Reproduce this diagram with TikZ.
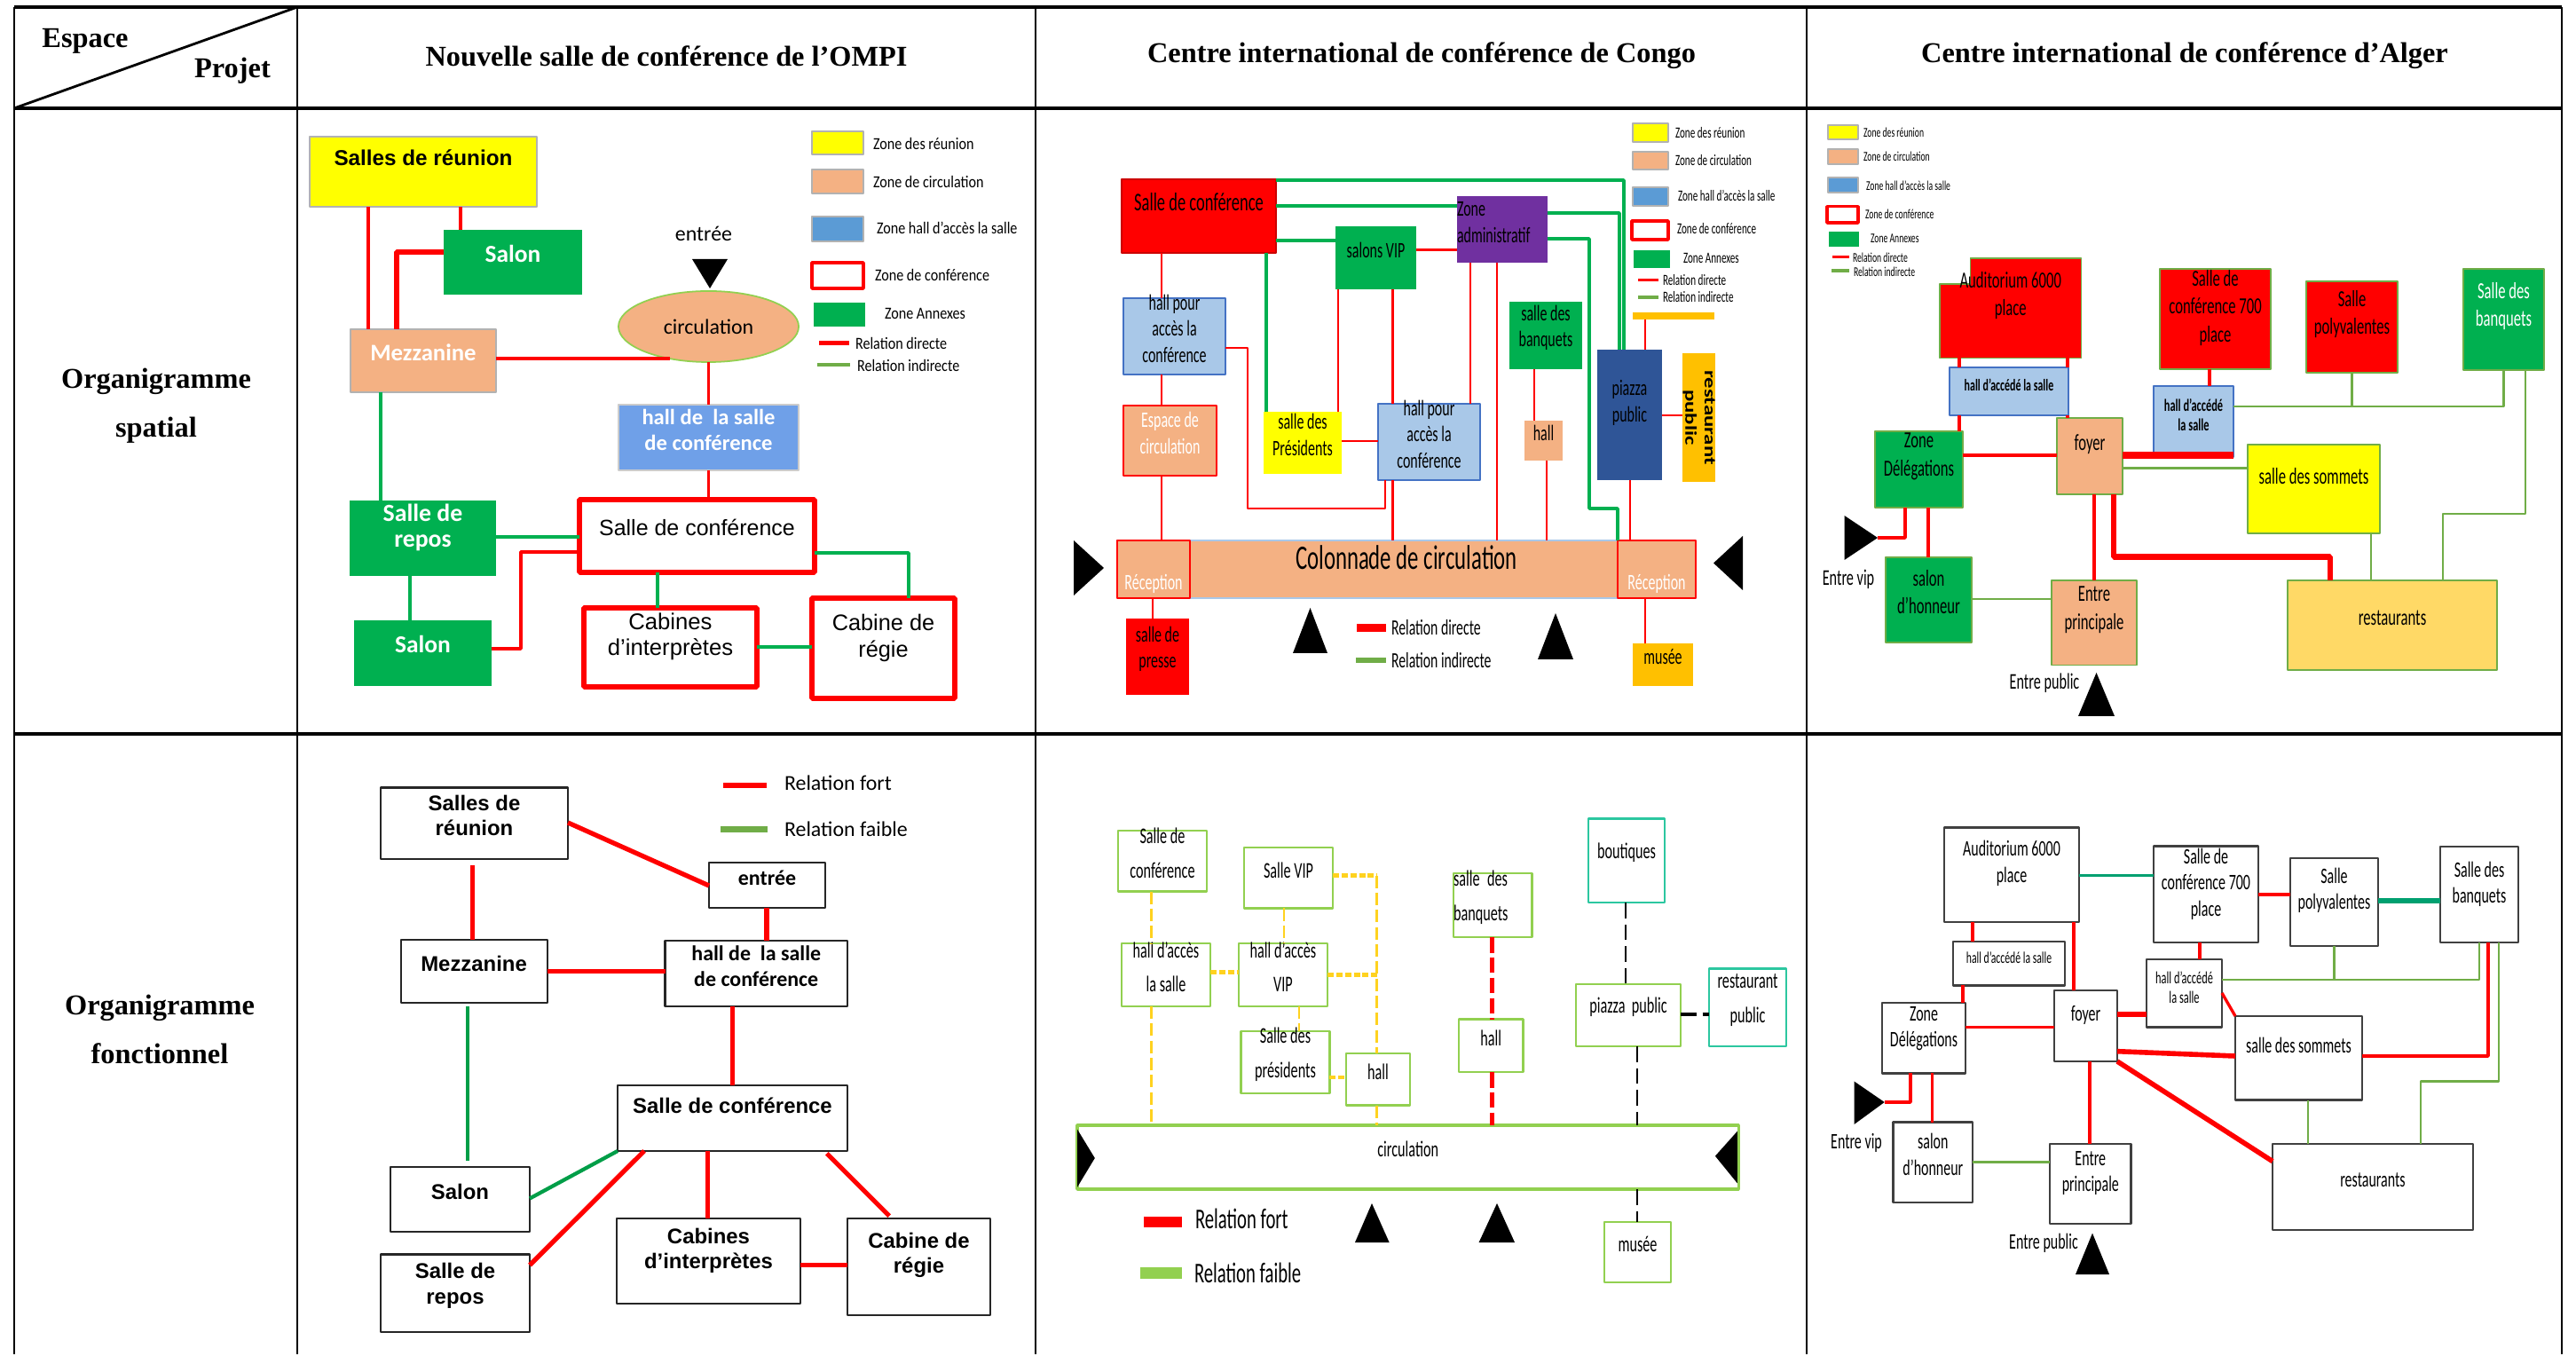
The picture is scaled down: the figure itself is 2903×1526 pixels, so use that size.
\documentclass[tikz,border=0pt]{standalone}
\usepackage{fontspec}
\setmainfont{Liberation Serif}
\newfontfamily\arial{Liberation Sans}
\newfontfamily\calibri{Carlito}
\newfontfamily\semi[FakeStretch=0.85]{Carlito}
\newfontfamily\narrow[FakeStretch=0.64]{Carlito}
\newfontfamily\wide[FakeStretch=1.35]{Carlito}
\usetikzlibrary{fit,shapes.geometric}

\newcommand\fsz[2]{\fontsize{#1}{#2}\selectfont}

\definecolor{reunion}{HTML}{FFFF00}
\definecolor{circ}{HTML}{F4B183}
\definecolor{hallzone}{HTML}{6FA0E8}
\definecolor{hallkey}{HTML}{5B9BD5}
\definecolor{hallpale}{HTML}{A9C8E8}
\definecolor{hallline}{HTML}{4472C4}
\definecolor{annexe}{HTML}{00B050}
\definecolor{admin}{HTML}{7030A0}
\definecolor{piazza}{HTML}{2F5597}
\definecolor{dore}{HTML}{FFC000}
\definecolor{resto}{HTML}{FFD966}
\definecolor{olive}{HTML}{70AD47}
\definecolor{pale}{HTML}{92D050}
\definecolor{jaune}{HTML}{FFD21F}
\definecolor{turq}{HTML}{2CC7A0}
\definecolor{sarcelle}{HTML}{00A070}

\tikzset{
  every node/.style={inner sep=0pt, outer sep=0pt, align=center},
  trait/.style={line width=1.3pt},
  vtrait/.style={line width=0.8pt},
  titre/.style={font=\bfseries\fsz{9.2}{15.6}},
  conf/.style={fill=white, draw=red, line width=1.7pt},
  direct/.style={draw=red, line width=1.1pt},
  indirect/.style={draw=annexe, line width=0.9pt},
  cleA/.style={anchor=west, font=\semi\fsz{5.4}{6}},
  fB/.style={font=\narrow\fsz{7.1}{8.5}},
  cleB/.style={anchor=west, font=\narrow\fsz{4.95}{5.5}},
  dirB/.style={draw=red, line width=0.7pt},
  indB/.style={draw=annexe, line width=0.9pt},
  fC/.style={font=\narrow\fsz{7.4}{9}},
  bordC/.style={draw=olive, line width=0.4pt},
  cleC/.style={anchor=west, font=\narrow\fsz{4.3}{5}},
  dirC/.style={draw=red, line width=1.1pt},
  indC/.style={draw=olive, line width=0.7pt},
  fD/.style={font=\arial\bfseries\fsz{6.8}{8.1}},
  boite/.style={fill=white, draw=black!85, line width=0.6pt},
  fort/.style={draw=red, line width=1.5pt},
  faib/.style={draw=annexe!90!black, line width=1.2pt},
  fE/.style={font=\narrow\fsz{7.2}{11}},
  cadre/.style={fill=white, draw=pale, line width=0.8pt},
  pointille/.style={draw=jaune, line width=0.7pt, dash pattern=on 4pt off 1.5pt},
  pointfort/.style={draw=jaune, line width=1.4pt, dash pattern=on 2pt off 0.8pt},
  rougep/.style={draw=red, line width=1.2pt, dash pattern=on 5pt off 1.5pt},
  noirp/.style={draw=black, line width=0.6pt, dash pattern=on 5pt off 2pt},
  fF/.style={font=\narrow\fsz{7.1}{8.4}},
  boiteF/.style={fill=white, draw=black!75, line width=0.7pt},
  dirF/.style={draw=red, line width=0.95pt},
  indF/.style={draw=olive, line width=0.65pt},
  tealF/.style={draw=sarcelle, line width=0.95pt},
}

\begin{document}
\begin{tikzpicture}[x=0.01cm,y=-0.01cm,line join=bevel]
%%
\fill[white] (0,0) rectangle (2903,1526);
\draw[trait] (16,8) -- (2887,8);
\draw[trait] (16,122) -- (2887,122);
\draw[trait] (16,827) -- (2887,827);
\foreach \x in {16,335,1167,2036,2887}
  \draw[vtrait] (\x,8) -- (\x,1526);
\draw[vtrait] (16,122) -- (335,8);
%
\node (h_espace) [titre] at (96,46) {Espace};
  \node (h_projet) [titre] at (262,80) {Projet};
  \node (h_ompi) [titre] at (751,63) {Nouvelle salle de conférence de l’OMPI};
  \node (h_congo) [titre] at (1602,63) {Centre international de conférence de Congo};
  \node (h_alger) [titre] at (2462,63) {Centre international de conférence d’Alger};
  \node (r_spatial) [titre] at (176,457) {Organigramme\\spatial};
  \node (r_fonct) [titre] at (180,1160) {Organigramme\\fonctionnel};
%%
% OMPI, spatial
\node (a_reunion) [fill=reunion, draw=black!30, fit={(349,154) (605,233)}, label={[anchor=north, yshift=-0.15cm, font=\arial\bfseries\fsz{6.9}{8}]90:Salles de réunion}] {};
  \node (a_salon) [fill=annexe, fit={(500,259) (656,332)}, font=\calibri\bfseries\fsz{7.8}{9}, text=white] {Salon};
  \node (a_mezz) [fill=circ, draw=black!30, fit={(395,371) (559,442)}, font=\calibri\bfseries\fsz{7.6}{9}, text=white] {Mezzanine};
  \node (a_entree) [font=\calibri\fsz{6.8}{8}] at (793,263) {entrée};
  \fill (780,292) -- (820,292) -- (800,325) -- cycle;
  \node (a_circ) [ellipse, fill=circ, draw=pale, line width=0.5pt, minimum width=2.03cm, minimum height=0.8cm, font=\calibri\fsz{6.8}{8}] at (798.5,368) {circulation};
  \node (a_hall) [fill=hallzone, draw=black!20, fit={(697,456) (900,530)}, font=\calibri\bfseries\fsz{7}{8.3}, text=white] {hall de\ \ la salle\\de conférence};
  \node (a_conf) [conf, fit={(653,563) (918,645)}, font=\arial\fsz{7.1}{8}] {Salle de conférence};
  \node (a_repos) [fill=annexe, fit={(394,564) (559,649)}, label={[anchor=north, yshift=-0.04cm, text=white, font=\calibri\bfseries\fsz{7.9}{8.3}]90:Salle de\\repos}] {};
  \node (a_salon2) [fill=annexe, fit={(399,699) (554,773)}, font=\calibri\bfseries\fsz{7.8}{9}, text=white] {Salon};
  \node (a_cab) [conf, fit={(658,685) (853,774)}, label={[anchor=north, yshift=-0.06cm, font=\arial\fsz{7.3}{8.3}]90:Cabines\\d’interprètes}] {};
  \node (a_regie) [conf, fit={(915,674) (1076,787)}, label={[anchor=north, yshift=-0.18cm, font=\arial\fsz{7.2}{8.7}]90:Cabine de\\régie}] {};
%
\node (a_k1) [fill=reunion, draw=black!30, fit={(915,148) (973,174)}] {};
  \node (a_k2) [fill=circ, draw=black!30, fit={(915,191) (973,218)}] {};
  \node (a_k3) [fill=hallkey, draw=black!30, fit={(915,244) (973,272)}] {};
  \node (a_k4) [fill=white, draw=red, line width=1.2pt, fit={(915,296) (973,325)}] {};
  \node (a_k5) [fill=annexe, fit={(917,341) (975,368)}] {};
  \draw[red, line width=1.3pt] (923,386.5) -- (957,386.5);
  \draw[olive, line width=1.3pt] (921,411) -- (958,411);
  \node (a_l1) [cleA] at (984,162) {Zone des réunion};
  \node (a_l2) [cleA] at (984,205) {Zone de circulation};
  \node (a_l3) [cleA] at (988,257) {Zone hall d’accès la salle};
  \node (a_l4) [cleA] at (986,310) {Zone de conférence};
  \node (a_l5) [cleA] at (997,353) {Zone Annexes};
  \node (a_l6) [cleA] at (964,387) {Relation directe};
  \node (a_l7) [cleA] at (966,412) {Relation indirecte};
%
\draw[direct] (a_reunion.south -| 415,0) -- (a_mezz.north -| 415,0);
  \draw[direct] (a_reunion.south -| 519,0) -- (a_salon.north -| 519,0);
  \draw[direct, line width=1.7pt] (a_salon.west |- 0,284) -| (a_mezz.north -| 447,0);
  \draw[direct] (a_mezz.east |- a_circ.220) -- (a_circ.220);
  \draw[direct] (a_circ.south) -- (a_hall.north);
  \draw[direct] (a_hall.south) -- (a_hall.south |- a_conf.north);
  \draw[indirect] (a_mezz.south -| 429,0) -- (a_repos.north -| 429,0);
  \draw[indirect] (a_repos.east |- 0,605) -- (a_conf.west |- 0,605);
  \draw[direct] (a_salon2.east |- 0,731) -- ++(33,0) |- (a_conf.west |- 0,622);
  \draw[indirect] (a_repos.south -| 462,0) -- (a_salon2.north -| 462,0);
  \draw[indirect] (a_conf.south -| 741,0) -- (a_cab.north -| 741,0);
  \draw[indirect] (a_conf.east |- 0,623) -| (a_regie.north -| 1024,0);
  \draw[indirect] (a_cab.east |- 0,729) -- (a_regie.west |- 0,729);
%%
% Congo, spatial
\node (b_conf) [fill=red, draw=red!80!black, line width=0.3pt, fit={(1264,202) (1438,285)}, label={[anchor=north, yshift=-0.15cm, font=\narrow\fsz{8.2}{8.5}]90:Salle de conférence}] {};
  \node (b_admin) [fill=admin, fit={(1642,221) (1744,296)}, fB, align=left] {Zone\\administratif};
  \node (b_vip) [fill=annexe, fit={(1505,255) (1596,326)}, fB] {salons VIP};
  \node (b_hall1) [fill=hallpale, draw=hallline, line width=0.5pt, fit={(1266,336) (1381,422)}, fB] {hall pour\\accès la\\conférence};
  \node (b_banq) [fill=annexe, fit={(1701,340) (1783,416)}, fB] {salle des\\banquets};
  \node (b_piazza) [fill=piazza, fit={(1800,394) (1873,541)}, label={[anchor=north, yshift=-0.34cm, fB]90:piazza\\public}] {};
  \node (b_resto) [fill=dore, fit={(1896,398) (1933,543)}] {};
  \node (b_resto_t) [rotate=-90, font=\wide\bfseries\fsz{5.2}{6.2}] at (b_resto) {restaurant\\public};
  \node (b_espace) [fill=circ, draw=red, line width=0.6pt, fit={(1266,457) (1371,536)}, fB, text=white] {Espace de\\circulation};
  \node (b_pres) [fill=reunion, fit={(1424,464) (1512,534)}, fB] {salle des\\Présidents};
  \node (b_hall2) [fill=hallpale, draw=hallline, line width=0.5pt, fit={(1553,455) (1668,541)}, fB] {hall pour\\accès la\\conférence};
  \node (b_hall) [fill=circ, fit={(1718,474) (1761,519)}, fB] {hall};
  \node (b_colon) [fill=circ, draw=hallpale, line width=0.6pt, fit={(1259,609) (1911,674)}, font=\narrow\fsz{11}{12}] {Colonnade de circulation};
  \node (b_recep1) [fill=circ, draw=red, line width=0.6pt, fit={(1259,609) (1341,674)}, label={[anchor=south, yshift=0.05cm, fB, text=white]-90:Réception}] {};
  \node (b_recep2) [fill=circ, draw=red, line width=0.6pt, fit={(1823,609) (1911,674)}, label={[anchor=south, yshift=0.05cm, fB, text=white]-90:Réception}] {};
  \node (b_presse) [fill=red, fit={(1269,697) (1340,783)}, fB] {salle de\\presse};
  \node (b_musee) [fill=dore, fit={(1840,725) (1908,773)}, fB] {musée};
  \fill (1210,609) -- (1244,640) -- (1210,671) -- cycle;
  \fill (1964,604) -- (1931,634.5) -- (1964,665) -- cycle;
  \fill (1457,736) -- (1476.5,685) -- (1496,736) -- cycle;
  \fill (1733,743) -- (1753,691) -- (1773,743) -- cycle;
%
\node (b_k1) [fill=reunion, draw=black!30, fit={(1840,139) (1880,160)}] {};
  \node (b_k2) [fill=circ, draw=black!30, fit={(1840,171) (1880,191)}] {};
  \node (b_k3) [fill=hallkey, draw=black!30, fit={(1840,211) (1880,232)}] {};
  \node (b_k4) [fill=white, draw=red, line width=0.9pt, fit={(1839,249) (1880,270)}] {};
  \node (b_k5) [fill=annexe, fit={(1841,282) (1882,302)}] {};
  \draw[red, line width=1.1pt] (1846,315.5) -- (1869,315.5);
  \draw[olive, line width=1.1pt] (1846,335) -- (1869,335);
  \node (b_k8) [fill=dore, fit={(1840,352) (1932,360)}] {};
  \node (b_l1) [cleB] at (1888,150) {Zone des réunion};
  \node (b_l2) [cleB] at (1888,181) {Zone de circulation};
  \node (b_l3) [cleB] at (1891,220) {Zone hall d’accès la salle};
  \node (b_l4) [cleB] at (1890,258) {Zone de conférence};
  \node (b_l5) [cleB] at (1897,291) {Zone Annexes};
  \node (b_l6) [cleB] at (1874,316) {Relation directe};
  \node (b_l7) [cleB] at (1874,335) {Relation indirecte};
  \fill[red] (1529,703) rectangle (1562,712);
  \fill[olive] (1528,741) rectangle (1562,747);
  \node (b_l9) [anchor=west, font=\narrow\fsz{7}{8}] at (1568,707) {Relation directe};
  \node (b_l10) [anchor=west, font=\narrow\fsz{7}{8}] at (1568,744) {Relation indirecte};
%
\draw[indB] (b_conf.east |- 0,203) -| (b_piazza.north -| 1830,0);
  \draw[indB] (b_conf.east |- 0,232) -- (b_admin.west |- 0,232);
  \draw[indB, line width=1.4pt] (b_conf.east |- 0,271) -- (b_vip.west |- 0,271);
  \draw[indB] (b_conf.south -| 1427,0) -- (b_pres.north -| 1427,0);
  \draw[indB] (b_admin.east |- 0,240) -| (b_piazza.north -| 1825,0);
  \draw[indB] (b_admin.east |- 0,269) -- ++(47,0) -- ++(0,304) -| (b_colon.north -| 1823,0);
  \draw[dirB] (b_vip.east |- 0,281.6) -- (b_admin.west |- 0,281.6);
  \draw[dirB] (b_vip.south -| 1508,0) -- (b_pres.north -| 1508,0);
  \draw[dirB] (b_vip.south -| 1569.5,0) -- (b_hall2.north -| 1569.5,0);
  \draw[dirB] (b_hall2.south -| 1569.5,0) -- (b_colon.north -| 1569.5,0);
  \draw[dirB] (b_admin.south -| 1657,0) -- (b_hall2.north -| 1657,0);
  \draw[dirB] (b_admin.south -| 1687,0) -- (b_colon.north -| 1687,0);
  \draw[dirB] (b_conf.south -| 1309,0) -- (b_hall1.north -| 1309,0);
  \draw[dirB] (b_hall1.south -| 1309,0) -- (b_espace.north -| 1309,0);
  \draw[dirB] (b_espace.south -| 1309,0) -- (b_colon.north -| 1309,0);
  \draw[dirB] (b_hall1.east |- 0,392) -- ++(25,0) -- ++(0,181) -| (b_hall2.south -| 1561,0);
  \draw[dirB] (b_pres.east |- 0,497) -- (b_hall2.west |- 0,497);
  \draw[dirB] (b_banq.south -| 1729,0) -- (b_hall.north -| 1729,0);
  \draw[dirB] (b_hall.south -| 1743,0) -- (b_colon.north -| 1743,0);
  \draw[dirB] (b_piazza.south -| 1837,0) -- (b_colon.north -| 1837,0);
  \draw[dirB] (b_piazza.east |- 0,468) -- (b_resto.west |- 0,468);
  \draw[dirB] (b_k8.south -| 1854,0) -- (b_piazza.north -| 1854,0);
  \draw[dirB] (b_recep1.south -| 1299,0) -- (b_presse.north -| 1299,0);
  \draw[dirB] (b_recep2.south -| 1854,0) -- (b_musee.north -| 1854,0);
%%
% Alger, spatial
\node (c_k1) [fill=reunion, draw=black!30, fit={(2060,141) (2094,157)}] {};
  \node (c_k2) [fill=circ, draw=black!30, fit={(2060,168) (2094,185)}] {};
  \node (c_k3) [fill=hallkey, draw=black!30, fit={(2060,200) (2094,217)}] {};
  \node (c_k4) [fill=white, draw=red, line width=0.9pt, fit={(2059,232.5) (2094,251)}] {};
  \node (c_k5) [fill=annexe, fit={(2061,260.6) (2095,277.6)}] {};
  \draw[red, line width=1pt] (2065,289.6) -- (2084,289.6);
  \draw[olive, line width=1pt] (2064,305) -- (2084,305);
  \node (c_l1) [cleC] at (2100,149) {Zone des réunion};
  \node (c_l2) [cleC] at (2100,176) {Zone de circulation};
  \node (c_l3) [cleC] at (2103,209) {Zone hall d’accès la salle};
  \node (c_l4) [cleC] at (2102,241) {Zone de conférence};
  \node (c_l5) [cleC] at (2108,269) {Zone Annexes};
  \node (c_l6) [cleC] at (2088,290) {Relation directe};
  \node (c_l7) [cleC] at (2089,306) {Relation indirecte};
%
\filldraw[fill=red, bordC] (2220.5,291) -- (2345.5,291) -- (2345.5,403.5) -- (2186,403.5) -- (2186,320) -- (2220.5,320) -- cycle;
  \node (c_audi) [fit={(2186,291) (2345.5,403.5)}, label={[anchor=north, yshift=-0.15cm, fC]90:Auditorium 6000\\place}] {};
  \node (c_hall1) [fill=hallpale, draw=hallline, line width=0.5pt, fit={(2197,414) (2331,468)}, font=\narrow\bfseries\fsz{5.3}{6}] {hall d’accédé la salle};
  \node (c_deleg) [fill=annexe, bordC, fit={(2113,486) (2212,572)}, label={[anchor=north, yshift=-0.02cm, fC]90:Zone\\Délégations}] {};
  \node (c_foyer) [fill=circ, bordC, fit={(2318,471) (2392,557)}, label={[anchor=north, yshift=-0.19cm, fC]90:foyer}] {};
  \node (c_conf7) [fill=red, bordC, fit={(2434,303) (2559,416)}, label={[anchor=north, yshift=-0.01cm, fC]90:Salle de\\conférence 700\\place}] {};
  \node (c_hall2) [fill=hallpale, draw=hallline, line width=0.5pt, fit={(2427,435) (2517,515)}, font=\narrow\bfseries\fsz{5.5}{6.3}] {hall d’accédé\\la salle};
  \node (c_poly) [fill=red, bordC, fit={(2599,317) (2702,420)}, label={[anchor=north, yshift=-0.1cm, fC]90:Salle\\polyvalentes}] {};
  \node (c_banq) [fill=annexe, bordC, fit={(2776,303) (2867,417)}, label={[anchor=north, yshift=-0.15cm, fC, text=white]90:Salle des\\banquets}] {};
  \node (c_somm) [fill=reunion, bordC, fit={(2533,501) (2682,601)}, label={[anchor=north, yshift=-0.26cm, fC]90:salle des sommets}] {};
  \node (c_salon) [fill=annexe, bordC, fit={(2125,628) (2222,724)}, fC] {salon\\d’honneur};
  \node (c_entre) [fill=circ, bordC, fit={(2312,654) (2408,749.5)}, label={[anchor=north, yshift=-0.07cm, fC]90:Entre\\principale}] {};
  \node (c_resto) [fill=resto, bordC, fit={(2578,654) (2814,755)}, fC] {restaurants};
  \node (c_vip) [font=\narrow\fsz{7.2}{8}] at (2083,653) {Entre vip};
  \fill (2078.5,581) -- (2116,606) -- (2078.5,631) -- cycle;
  \coordinate (c_vtip) at (2116,606);
  \node (c_pub) [font=\narrow\fsz{7.2}{8}] at (2304,769.5) {Entre public};
  \fill (2342,807) -- (2362.5,758) -- (2383,807) -- cycle;
%
\draw[dirC] (c_audi.south -| 2208,0) -- (c_hall1.north -| 2208,0);
  \draw[dirC] (c_audi.south -| 2330,0) -- (c_hall1.north -| 2330,0);
  \draw[dirC] (c_hall1.south -| 2208,0) -- (c_deleg.north -| 2208,0);
  \draw[dirC] (c_hall1.south -| 2330,0) -- (c_foyer.north -| 2330,0);
  \draw[dirC] (c_deleg.east |- 0,513) -- (c_foyer.west |- 0,513);
  \draw[dirC, line width=2.2pt] (c_foyer.east |- 0,513) -- (c_hall2.south east |- 0,513);
  \draw[dirC] (c_conf7.south -| 2490,0) -- (c_hall2.north -| 2490,0);
  \draw[indC] (c_foyer.east |- 0,527.6) -- (c_somm.west |- 0,527.6);
  \draw[indC] (c_hall2.east |- 0,458) coordinate (c_j) -| (c_banq.south -| 2821.6,0);
  \draw[indC] (c_poly.south) -- (c_poly.south |- c_j);
  \draw[indC] (c_banq.south -| 2846,0) -- ++(0,162) -| (c_resto.north -| 2753,0);
  \draw[indC] (c_somm.south -| 2672,0) -- (c_resto.north -| 2672,0);
  \draw[dirC, line width=1.9pt] (c_foyer.south -| 2382,0) -- ++(0,70.6) -| (c_resto.north -| 2626,0);
  \draw[dirC] (c_foyer.south -| 2360,0) -- (c_entre.north -| 2360,0);
  \draw[dirC] (c_deleg.south -| 2147,0) |- (c_vtip);
  \draw[dirC] (c_deleg.south -| 2173,0) -- (c_salon.north -| 2173,0);
  \draw[indC] (c_salon.east |- 0,675) -- (c_entre.west |- 0,675);
%%
% OMPI, fonctionnel
\node (d_reunion) [boite, fit={(429,887.5) (640,968)}, fD] {Salles de\\réunion};
  \node (d_entree) [boite, fit={(799,972) (930,1022.6)}, font=\calibri\bfseries\fsz{6.8}{8}] {entrée};
  \node (d_mezz) [boite, fit={(451.6,1058.7) (616.6,1130)}, fD] {Mezzanine};
  \node (d_hall) [boite, fit={(749.5,1060) (955,1134)}, font=\calibri\bfseries\fsz{6.8}{8.2}] {hall de\ \ la salle\\de conférence};
  \node (d_conf) [boite, fit={(696,1223) (955,1297)}, label={[anchor=north, yshift=-0.14cm, fD]90:Salle de conférence}] {};
  \node (d_salon) [boite, fit={(440,1315) (597,1388)}, fD] {Salon};
  \node (d_repos) [boite, fit={(429,1413.5) (597,1501)}, fD] {Salle de\\repos};
  \node (d_cab) [boite, fit={(695,1373) (902,1469)}, label={[anchor=north, yshift=-0.11cm, fD]90:Cabines\\d’interprètes}] {};
  \node (d_regie) [boite, fit={(955,1373) (1116,1482)}, label={[anchor=north, yshift=-0.16cm, fD]90:Cabine de\\régie}] {};
  \fill[red] (815,882) rectangle (864,888.5);
  \fill[olive] (812,931) rectangle (865,938);
  \node (d_l1) [anchor=west, font=\calibri\fsz{6.8}{8}] at (884,882) {Relation fort};
  \node (d_l2) [anchor=west, font=\calibri\fsz{6.8}{8}] at (884,934) {Relation faible};
%
\draw[fort, shorten <=0.07cm] (d_reunion.south -| 532.5,0) -- (d_mezz.north -| 532.5,0);
  \draw[fort] (d_reunion.east |- 0,927) -- (d_entree.west |- 0,998);
  \draw[fort] (d_entree.south -| 864,0) -- (d_hall.north -| 864,0);
  \draw[fort] (d_mezz.east |- 0,1094.7) -- (d_hall.west |- 0,1094.7);
  \draw[fort] (d_hall.south -| 825.5,0) -- (d_conf.north -| 825.5,0);
  \draw[faib, shorten <=0.04cm, shorten >=0.07cm] (d_mezz.south -| 527,0) -- (d_salon.north -| 527,0);
  \draw[faib] (d_conf.south west) -- (d_salon.east |- 0,1350.5);
  \draw[fort] (d_conf.south -| 726,0) -- (d_repos.east |- 0,1425.6);
  \draw[fort] (d_conf.south -| 797.7,0) -- (d_cab.north -| 797.7,0);
  \draw[fort, shorten <=0.04cm, shorten >=0.04cm] (d_conf.south -| 929,0) -- (d_regie.north -| 1005,0);
  \draw[fort] (d_cab.east |- 0,1425.6) -- (d_regie.west |- 0,1425.6);
%%
% Congo, fonctionnel
\node (e_conf) [cadre, fit={(1260,936) (1360,1004.6)}, fE] {Salle de\\conférence};
  \node (e_vip) [cadre, fit={(1402,955) (1502,1023.5)}, fE] {Salle VIP};
  \node (e_hallsalle) [cadre, fit={(1264,1063) (1364,1134)}, fE] {hall d’accès\\la salle};
  \node (e_hallvip) [cadre, fit={(1396,1063) (1496,1134)}, fE] {hall d’accès\\VIP};
  \node (e_pres) [cadre, fit={(1398.6,1162) (1498.4,1232)}, fE] {Salle des\\présidents};
  \node (e_hall1) [cadre, fit={(1517,1187) (1589,1245.6)}, fE] {hall};
  \node (e_banq) [cadre, fit={(1638,984) (1726.5,1056)}, fE, align=left] {salle des\\banquets};
  \node (e_hall2) [cadre, fit={(1644,1148.7) (1716.5,1208)}, fE] {hall};
  \node (e_bout) [cadre, draw=turq, fit={(1790,922.7) (1876,1017)}, fE] {boutiques};
  \node (e_piazza) [cadre, fit={(1776,1109) (1894,1179)}, fE] {piazza\ \ public};
  \node (e_resto) [cadre, draw=turq, fit={(1926,1091.5) (2013,1179)}, fE] {restaurant\\public};
  \node (e_circ) [cadre, line width=0.9pt, fit={(1214,1268) (1959.5,1340)}, fE] {circulation};
  \node (e_musee) [cadre, fit={(1808,1377) (1883,1445)}, fE] {musée};
  \fill (1214,1272.5) -- (1233.8,1305) -- (1214,1337.8) -- cycle;
  \fill (1957.8,1274.8) -- (1932.9,1302.7) -- (1957.8,1333.3) -- cycle;
  \fill (1527,1400) -- (1546,1356) -- (1565.6,1400) -- cycle;
  \fill (1666.6,1400) -- (1687,1356) -- (1707,1400) -- cycle;
  \fill[red] (1289,1371) rectangle (1332,1383);
  \fill[pale] (1285,1428) rectangle (1332,1440.5);
  \node (e_l1) [anchor=west, font=\narrow\fsz{9.2}{10}] at (1347,1373) {Relation fort};
  \node (e_l2) [anchor=west, font=\narrow\fsz{9.2}{10}] at (1346,1434) {Relation faible};
%
\draw[pointille] (e_conf.south -| 1297.6,0) -- (e_hallsalle.north -| 1297.6,0);
  \draw[pointfort] (e_hallsalle.east |- 0,1095.6) -- (e_hallvip.west |- 0,1095.6);
  \draw[pointille] (e_hallsalle.south -| 1297.6,0) -- (e_circ.north -| 1297.6,0);
  \draw[pointille] (e_vip.south -| 1447,0) -- (e_hallvip.north -| 1447,0);
  \draw[pointfort] (e_vip.east |- 0,986.6) -- ++(49.7,0) coordinate (e_j);
  \draw[pointille] (e_j) -- (e_hall1.north -| e_j);
  \draw[pointfort] (e_hallvip.east) -- (e_hallvip.east -| e_j);
  \draw[pointille] (e_hallvip.south -| 1464,0) -- (e_pres.north -| 1464,0);
  \draw[pointfort] (e_pres.east |- 0,1214) -- (e_hall1.west |- 0,1214);
  \draw[pointille] (e_hall1.south -| e_j) -- (e_circ.north -| e_j);
  \draw[rougep] (e_banq.south -| 1681.5,0) -- (e_hall2.north -| 1681.5,0);
  \draw[rougep] (e_hall2.south -| 1681.5,0) -- (e_circ.north -| 1681.5,0);
  \draw[noirp] (e_bout.south -| 1832,0) -- (e_piazza.north -| 1832,0);
  \draw[noirp, line width=1.3pt] (e_piazza.east |- 0,1143) -- (e_resto.west |- 0,1143);
  \draw[noirp] (e_piazza.south -| 1845,0) -- (e_circ.north -| 1845,0);
  \draw[noirp] (e_circ.south -| 1845,0) -- (e_musee.north -| 1845,0);
%%
% Alger, fonctionnel
\node (f_audi) [boiteF, fit={(2191,932.6) (2343,1039)}, label={[anchor=north, yshift=-0.15cm, fF]90:Auditorium 6000\\place}] {};
  \node (f_conf7) [boiteF, fit={(2427,953.7) (2545,1062)}, label={[anchor=north, yshift=-0.02cm, fF]90:Salle de\\conférence 700\\place}] {};
  \node (f_poly) [boiteF, fit={(2581,967) (2680,1066)}, label={[anchor=north, yshift=-0.11cm, fF]90:Salle\\polyvalentes}] {};
  \node (f_banq) [boiteF, fit={(2750,954) (2838,1062)}, label={[anchor=north, yshift=-0.17cm, fF]90:Salle des\\banquets}] {};
  \node (f_hall1) [boiteF, fit={(2201,1061) (2327,1110.5)}, font=\narrow\fsz{5.2}{6}] {hall d’accédé la salle};
  \node (f_hall2) [boiteF, fit={(2419,1081) (2504,1157.7)}, font=\narrow\fsz{5.5}{6.4}] {hall d’accédé\\la salle};
  \node (f_deleg) [boiteF, fit={(2121,1130) (2215,1209.5)}, label={[anchor=north, yshift=-0.04cm, fF]90:Zone\\Délégations}] {};
  \node (f_foyer) [boiteF, fit={(2315,1116) (2386,1196)}, label={[anchor=north, yshift=-0.17cm, fF]90:foyer}] {};
  \node (f_somm) [boiteF, fit={(2519,1145) (2662,1239.7)}, label={[anchor=north, yshift=-0.24cm, fF]90:salle des sommets}] {};
  \node (f_salon) [boiteF, fit={(2133.6,1264.5) (2223,1355)}, fF] {salon\\d’honneur};
  \node (f_entre) [boiteF, fit={(2310,1289) (2401.6,1379)}, label={[anchor=north, yshift=-0.08cm, fF]90:Entre\\principale}] {};
  \node (f_resto) [boiteF, fit={(2561,1289) (2787,1386)}, fF] {restaurants};
  \node (f_vip) [fF] at (2092,1288) {Entre vip};
  \fill (2089.5,1218.5) -- (2123.7,1242) -- (2089.5,1267) -- cycle;
  \coordinate (f_vtip) at (2123.7,1242);
  \node (f_pub) [fF] at (2303,1401) {Entre public};
  \fill (2339,1436) -- (2358,1389.6) -- (2377,1436) -- cycle;
%
\draw[tealF] (f_audi.east |- 0,986.6) -- (f_conf7.west |- 0,986.6);
  \draw[dirF] (f_conf7.east |- 0,1008) -- (f_poly.west |- 0,1008);
  \draw[tealF, line width=1.9pt] (f_poly.east |- 0,1015) -- (f_banq.west |- 0,1015);
  \draw[dirF] (f_audi.south -| 2223,0) -- (f_hall1.north -| 2223,0);
  \draw[dirF] (f_audi.south -| 2337,0) -- (f_foyer.north -| 2337,0);
  \draw[dirF] (f_hall1.south -| 2212,0) -- (f_deleg.north -| 2212,0);
  \draw[dirF] (f_deleg.east |- 0,1157.7) -- (f_foyer.west |- 0,1157.7);
  \draw[dirF, line width=1.6pt] (f_foyer.east |- 0,1143) -- (f_hall2.west |- 0,1143);
  \draw[dirF] (f_conf7.south -| 2479,0) -- (f_hall2.north -| 2479,0);
  \draw[indF] (f_hall2.east |- 0,1103.7) coordinate (f_j) -| (f_banq.south -| 2794,0);
  \draw[indF] (f_poly.south) -- (f_poly.south |- f_j);
  \draw[dirF] (f_hall2.east |- 0,1119) -- (f_somm.north west);
  \draw[dirF, line width=1.6pt] (f_foyer.east |- 0,1184.7) -- (f_somm.west |- 0,1190);
  \draw[dirF] (f_somm.east |- 0,1190) -| (f_banq.south -| 2804,0);
  \draw[indF] (f_banq.south -| 2816,0) -- ++(0,156.5) -| (f_resto.north -| 2728,0);
  \draw[indF] (f_somm.south -| 2601,0) -- (f_resto.north -| 2601,0);
  \draw[dirF, line width=1.6pt] (f_foyer.south east) -- (f_resto.west |- 0,1308.6);
  \draw[dirF] (f_foyer.south -| 2355,0) -- (f_entre.north -| 2355,0);
  \draw[dirF] (f_deleg.south -| 2153,0) |- (f_vtip);
  \draw[dirF] (f_deleg.south -| 2177.6,0) -- (f_salon.north -| 2177.6,0);
  \draw[indF] (f_salon.east |- 0,1309.5) -- (f_entre.west |- 0,1309.5);
%
\end{tikzpicture}
\end{document}
